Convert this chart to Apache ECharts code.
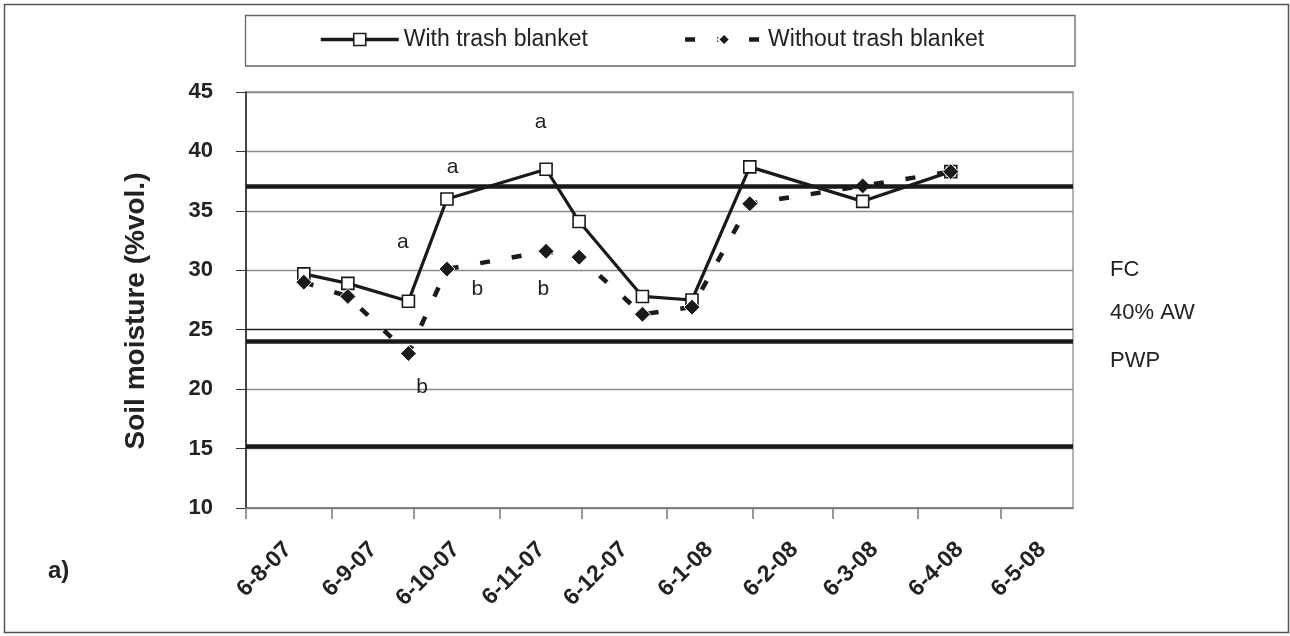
<!DOCTYPE html>
<html>
<head>
<meta charset="utf-8">
<title>Soil moisture</title>
<script src="https://cdn.jsdelivr.net/npm/echarts@6/dist/echarts.min.js"></script>
<style>
  html, body { margin: 0; padding: 0; background: #fff; }
  #chart { width: 1290px; height: 636px; }
</style>
</head>
<body>
<div id="chart"></div>
<script>
// sampling dates (shown as d-m-yy on the axis)
const sampleDates = ['2007-08-27', '2007-09-12', '2007-10-04', '2007-10-18', '2007-11-23', '2007-12-05',
  '2007-12-28', '2008-01-15', '2008-02-05', '2008-03-17', '2008-04-18']
const withTrash = [29.7, 28.9, 27.4, 36.0, 38.5, 34.1, 27.8, 27.5, 38.7, 35.8, 38.3]
const withoutTrash = [29.0, 27.8, 23.0, 30.1, 31.6, 31.1, 26.3, 26.9, 35.6, 37.1, 38.3]

// reference levels: FC, 40% AW, PWP
const levelNames = ['FC', '40% AW', 'PWP']
const levelValues = [37.1, 24.05, 15.2]

// x ticks
const tickDates = ['2007-08-06', '2007-09-06', '2007-10-06', '2007-11-06', '2007-12-06',
  '2008-01-06', '2008-02-06', '2008-03-06', '2008-04-06', '2008-05-06']
const tickLabels = ['6-8-07', '6-9-07', '6-10-07', '6-11-07', '6-12-07',
  '6-1-08', '6-2-08', '6-3-08', '6-4-08', '6-5-08']
const axisEndDate = '2008-06-01'

// significance letters
const letterText = ['a', 'a', 'a', 'b', 'b', 'b']
const letterDates = ['2007-11-21', '2007-10-20', '2007-10-02', '2007-10-29', '2007-11-22', '2007-10-09']
const letterValues = [42.5, 38.7, 32.4, 28.4, 28.4, 20.15]

const FONT = '"Liberation Sans", Arial, sans-serif'

// days since the first axis tick
function dayOf(d) {
  const t0 = Date.UTC(2007, 7, 6)
  const p = d.split('-').map(Number)
  return Math.round((Date.UTC(p[0], p[1] - 1, p[2]) - t0) / 86400000)
}
const tickDays = tickDates.map(dayOf)
// first / last custom value get dropped, so repeat them
const tickValues = [tickDays[0]].concat(tickDays, [tickDays[tickDays.length - 1]])

const chart = echarts.init(document.getElementById('chart'))
chart.setOption({
  animation: false,
  textStyle: { fontFamily: FONT },
  grid: {
    left: 246,
    top: 92,
    width: 827,
    height: 416,
    show: true,
    borderColor: '#999',
    borderWidth: 1.5
  },
  legend: {
    left: 319,
    top: 28,
    padding: 0,
    itemGap: 95,
    itemWidth: 78,
    itemHeight: 15,
    selectedMode: false,
    textStyle: { fontSize: 23, color: '#222', fontFamily: FONT },
    data: [
      { name: 'With trash blanket', lineStyle: { width: 3.5 }, itemStyle: { borderWidth: 1.6 } },
      { name: 'Without trash blanket', lineStyle: { width: 4.5 } }
    ]
  },
  xAxis: {
    type: 'value',
    min: 0,
    max: dayOf(axisEndDate) + 0.4,
    axisLine: { lineStyle: { color: '#777', width: 1.5 } },
    axisTick: { show: true, length: 11, customValues: tickValues, lineStyle: { color: '#777', width: 1.5 } },
    splitLine: { show: false },
    axisLabel: {
      customValues: tickValues,
      showMinLabel: true,
      showMaxLabel: true,
      rotate: 45,
      align: 'right',
      verticalAlign: 'top',
      padding: [48, 0, 0, 0],
      lineHeight: 23,
      margin: -4,
      fontSize: 23,
      fontWeight: 'bold',
      color: '#222',
      fontFamily: FONT,
      formatter: function (value) {
        const i = tickDays.indexOf(Math.round(value))
        return i >= 0 ? tickLabels[i] : ''
      }
    }
  },
  yAxis: {
    type: 'value',
    min: 10,
    max: 45,
    interval: 5,
    name: 'Soil moisture (%vol.)',
    nameLocation: 'middle',
    nameGap: 96,
    nameTextStyle: { fontSize: 28, fontWeight: 'bold', color: '#222', fontFamily: FONT, padding: [0, 22, 0, 0] },
    axisLine: { show: true, lineStyle: { color: '#222', width: 1.5 } },
    axisTick: { show: true, length: 10, lineStyle: { color: '#333', width: 1 } },
    axisLabel: { margin: 33, fontSize: 22, fontWeight: 'bold', color: '#222', fontFamily: FONT },
    splitLine: {
      lineStyle: {
        color: ['#8c8c8c', '#8c8c8c', '#8c8c8c', '#222', '#8c8c8c', '#8c8c8c', '#8c8c8c', '#8c8c8c'],
        width: 1.3
      }
    }
  },
  graphic: [
    { type: 'rect', shape: { x: 4.5, y: 4.5, width: 1284, height: 628 }, style: { fill: 'none', stroke: '#555', lineWidth: 1.5 }, silent: true },
    { type: 'rect', shape: { x: 245.5, y: 15.5, width: 829.5, height: 50.5 }, style: { fill: 'none', stroke: '#666', lineWidth: 1.3 }, silent: true },
    { type: 'text', x: 1110, y: 270, style: { text: levelNames[0], font: '22px ' + FONT, fill: '#222', verticalAlign: 'middle' }, silent: true },
    { type: 'text', x: 1110, y: 313, style: { text: levelNames[1], font: '22px ' + FONT, fill: '#222', verticalAlign: 'middle' }, silent: true },
    { type: 'text', x: 1110, y: 361, style: { text: levelNames[2], font: '22px ' + FONT, fill: '#222', verticalAlign: 'middle' }, silent: true },
    { type: 'text', x: 48, y: 571, style: { text: 'a)', font: 'bold 24px ' + FONT, fill: '#222', verticalAlign: 'middle' }, silent: true }
  ],
  series: [
    {
      name: 'With trash blanket',
      type: 'line',
      data: sampleDates.map((d, i) => [dayOf(d), withTrash[i]]),
      symbol: 'rect',
      symbolSize: 12,
      showAllSymbol: true,
      itemStyle: { color: '#fff', borderColor: '#1a1a1a', borderWidth: 1.6 },
      lineStyle: { color: '#1a1a1a', width: 3.2 },
      markLine: {
        silent: true,
        symbol: ['none', 'none'],
        label: { show: false },
        lineStyle: { color: '#1a1a1a', width: 4.5, type: 'solid' },
        data: levelValues.map(v => ({ yAxis: v }))
      }
    },
    {
      name: 'Without trash blanket',
      type: 'line',
      data: sampleDates.map((d, i) => [dayOf(d), withoutTrash[i]]),
      symbol: 'diamond',
      symbolSize: 16,
      showAllSymbol: true,
      itemStyle: { color: '#1a1a1a', borderColor: '#fff', borderWidth: 1 },
      lineStyle: { color: '#1a1a1a', width: 4.5, type: [10, 22] },
      markPoint: {
        silent: true,
        symbol: 'circle',
        symbolSize: 1,
        itemStyle: { color: 'rgba(0,0,0,0)' },
        label: { show: true, position: 'inside', fontSize: 21, color: '#222', fontFamily: FONT, formatter: p => p.name },
        data: letterText.map((t, i) => ({ name: t, coord: [dayOf(letterDates[i]), letterValues[i]] }))
      }
    }
  ]
})
</script>
</body>
</html>
